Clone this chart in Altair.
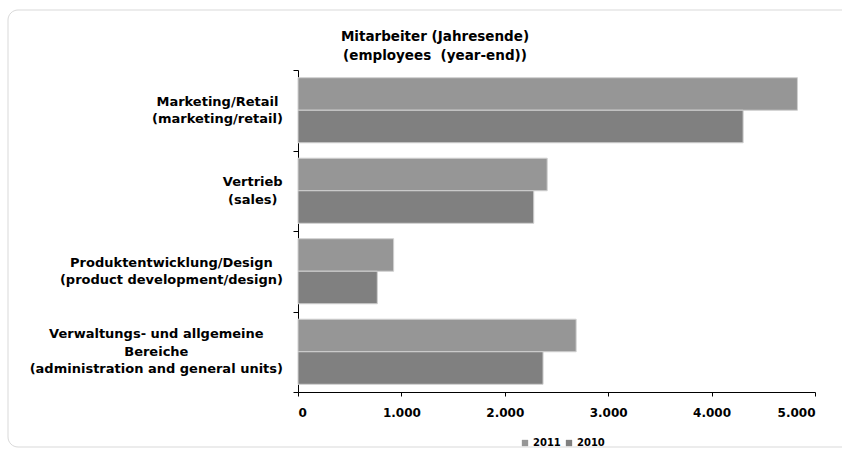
import altair as alt
import pandas as pd

# Headcount at year end, by function (German label, English label)
categories_de = ["Marketing/Retail", "Vertrieb", "Produktentwicklung/Design",
                 "Verwaltungs- und allgemeine\nBereiche"]
categories_en = ["(marketing/retail)", "(sales)", "(product development/design)",
                 "(administration and general units)"]
years = ["2011", "2010"]
values_2011 = [4830, 2410, 925, 2690]
values_2010 = [4305, 2280, 767, 2370]
x_ticks = [0, 1000, 2000, 3000, 4000, 5000]
# second space is non-breaking so that SVG keeps the double gap
title_lines = ["Mitarbeiter (Jahresende)", "(employees \u00a0(year-end))"]

FONT = "DejaVu Sans"
LABEL_SIZE = 13
LINE_H = 17.5
PLOT_W, PLOT_H = 517, 322
PAD = {"left": 298, "top": 70, "right": 27, "bottom": 59}

cats = [de + "\n" + en for de, en in zip(categories_de, categories_en)]

rows = []
for c, v11, v10 in zip(cats, values_2011, values_2010):
    rows.append({"cat": c, "year": "2011", "value": v11})
    rows.append({"cat": c, "year": "2010", "value": v10})
bars_df = pd.DataFrame(rows)

# Approximate advance widths (em) of DejaVu Sans Bold, used to centre
# each multi-line category label inside its own block.
EM = {
    " ": .348, "(": .457, ")": .457, "/": .365, "-": .415,
    "a": .675, "b": .716, "c": .593, "d": .716, "e": .678, "f": .435,
    "g": .716, "h": .712, "i": .343, "j": .343, "k": .665, "l": .343,
    "m": 1.042, "n": .712, "o": .687, "p": .716, "q": .716, "r": .493,
    "s": .595, "t": .478, "u": .712, "v": .652, "w": .924, "x": .645,
    "y": .652, "z": .582, "M": .995, "R": .770, "V": .774, "P": .733,
    "D": .830, "B": .762,
}


def text_width(s, size):
    return sum(EM.get(ch, .65) for ch in s) * size


label_rows = []
for c in cats:
    lines = c.split("\n")
    block = max(text_width(line, LABEL_SIZE) for line in lines)
    label_rows.append({"cat": c, "cx": -15 - block / 2, "n": len(lines)})
labels_df = pd.DataFrame(label_rows)

y_scale = alt.Scale(domain=cats, paddingInner=0, paddingOuter=0)

bars = alt.Chart(bars_df).mark_bar(
    stroke="#d0d0d0", strokeWidth=1
).encode(
    x=alt.X("value:Q",
            scale=alt.Scale(domain=[0, 5000], nice=False),
            axis=alt.Axis(values=x_ticks, grid=False, title=None,
                          labelExpr="replace(format(datum.value, ','), ',', '.')",
                          labelFont=FONT, labelFontSize=12, labelFontWeight="bold",
                          labelColor="#000", labelPadding=11,
                          domainColor="#000", tickColor="#000", tickSize=4)),
    y=alt.Y("cat:N", scale=y_scale, sort=cats,
            axis=alt.Axis(labels=False, title=None, grid=False, tickBand="extent",
                          domainColor="#000", tickColor="#000", tickSize=5)),
    yOffset=alt.YOffset("year:N", sort=years,
                        scale=alt.Scale(paddingInner=0, paddingOuter=0.237)),
    color=alt.Color("year:N", sort=years,
                    scale=alt.Scale(domain=years, range=["#969696", "#808080"]),
                    legend=alt.Legend(title=None, orient="none", direction="horizontal",
                                      legendX=222, legendY=368,
                                      symbolType="square", symbolSize=40,
                                      symbolStrokeWidth=0,
                                      labelFont=FONT, labelFontSize=10,
                                      labelFontWeight="bold", labelColor="#000",
                                      labelOffset=3, columnPadding=3)),
)


def label_layer(n_lines):
    # the first line sits on the anchor, so lift the block by half its extra height
    return alt.Chart(labels_df).transform_filter(
        alt.datum.n == n_lines
    ).mark_text(
        font=FONT, fontSize=LABEL_SIZE, fontWeight="bold", color="#000",
        align="center", baseline="middle", lineBreak="\n", lineHeight=LINE_H,
        dy=-(n_lines - 1) * LINE_H / 2,
    ).encode(
        x=alt.X("cx:Q", scale=None),
        y=alt.Y("cat:N", scale=y_scale, sort=cats),
        text="cat:N",
    )


labels = [label_layer(n) for n in sorted(labels_df["n"].unique())]

# Two-line chart heading, centred over the left part of the plot
heading = alt.Chart(pd.DataFrame({"t": ["\n".join(title_lines)]})).mark_text(
    font=FONT, fontSize=13.5, fontWeight="bold", color="#000",
    align="center", baseline="middle", lineBreak="\n", lineHeight=18.5,
).encode(
    x=alt.value(137), y=alt.value(-33), text="t:N",
)

# Light rounded frame around the whole chart area
frame = alt.Chart(pd.DataFrame({"k": [0]})).mark_rect(
    fill=None, stroke="#d9d9d9", strokeWidth=1, cornerRadius=10
).encode(
    x=alt.value(-290), x2=alt.value(600),
    y=alt.value(-60), y2=alt.value(377),
)

chart = alt.layer(frame, bars, *labels, heading).properties(
    width=PLOT_W, height=PLOT_H,
    autosize="none", padding=PAD, background="white",
).configure_view(strokeWidth=0, stroke=None)

chart.save("out.html", embed_options={"renderer": "svg", "actions": False})
